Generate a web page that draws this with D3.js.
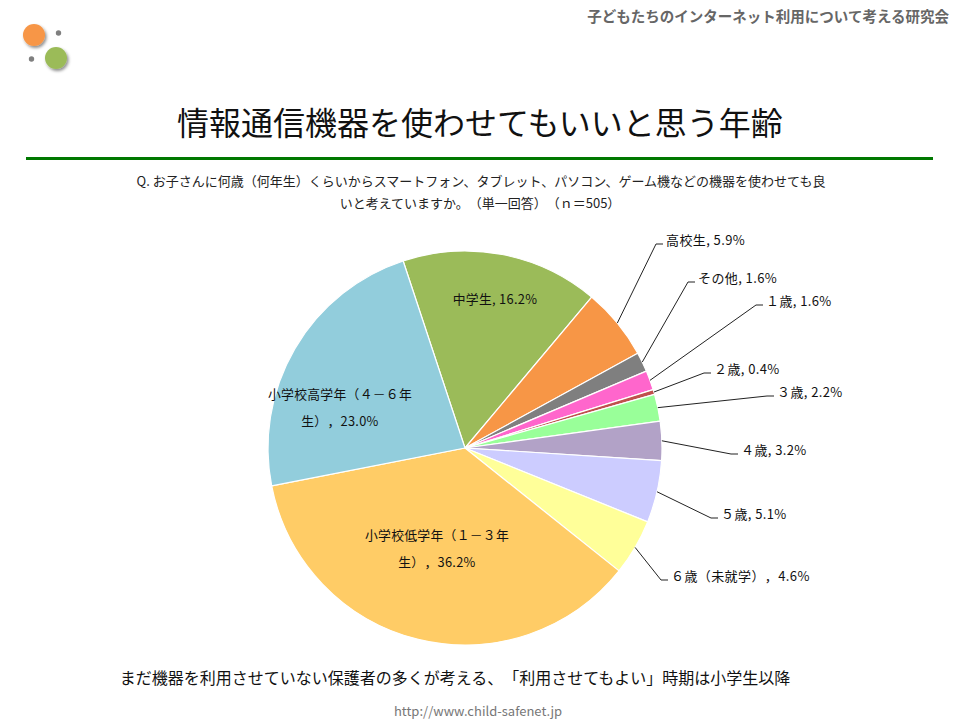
<!DOCTYPE html>
<html>
<head>
<meta charset="utf-8">
<script src="https://cdn.jsdelivr.net/npm/d3@7"></script>
<style>
  html, body { margin: 0; padding: 0; background: #fff; }
  svg { display: block; text-spacing-trim: space-all; }
  text { font-family: "Noto Sans CJK JP", "Noto Sans", sans-serif; text-spacing-trim: space-all; }
</style>
</head>
<body>
<svg id="chart" width="960" height="720"></svg>
<script>
// ---- data ----
const categories = ["中学生", "高校生", "その他", "１歳", "２歳", "３歳", "４歳", "５歳", "６歳（未就学）", "小学校低学年（１－３年生）", "小学校高学年（４－６年生）"];
const values = [16.2, 5.9, 1.6, 1.6, 0.4, 2.2, 3.2, 5.1, 4.6, 36.2, 23.0];
const sliceColors = ["#9BBB59", "#F79646", "#7F7F7F", "#FF66CC", "#C0504D", "#99FF99", "#B2A2C7", "#CCCCFF", "#FFFF99", "#FFCC66", "#92CDDC"];
// label text lines for each slice
const labelLines = [
  ["中学生, 16.2%"],
  ["高校生, 5.9%"],
  ["その他, 1.6%"],
  ["１歳, 1.6%"],
  ["２歳, 0.4%"],
  ["３歳, 2.2%"],
  ["４歳, 3.2%"],
  ["５歳, 5.1%"],
  ["６歳（未就学），4.6%"],
  ["小学校低学年（１－３年", "生），36.2%"],
  ["小学校高学年（４－６年", "生），23.0%"]
];

// ---- layout ----
const cx = 465, cy = 448, R = 197;
const startDeg = -18.3;
// outer label elbows (null = inside label)
const elbows = [null, [656, 244], [688, 282], [756, 305], [704, 373], [767, 396], [731, 454], [711, 518], [661, 580], null, null];
// inside label centres
const insidePos = [[495, 298], null, null, null, null, null, null, null, null, [437, 534], [340, 393]];

const svg = d3.select("#chart");

// header
svg.append("text").attr("x", 949).attr("y", 22).attr("text-anchor", "end")
  .attr("font-size", 14.5).attr("font-weight", "bold").attr("fill", "#666")
  .text("子どもたちのインターネット利用について考える研究会");

// logo
const defs = svg.append("defs");
const f = defs.append("filter").attr("id", "sh").attr("x", "-50%").attr("y", "-50%").attr("width", "200%").attr("height", "200%");
f.append("feDropShadow").attr("dx", 1.5).attr("dy", 2).attr("stdDeviation", 1.5).attr("flood-color", "#000").attr("flood-opacity", 0.45);
const logo = svg.append("g");
logo.append("circle").attr("cx", 34).attr("cy", 35).attr("r", 11).attr("fill", "#F79646").attr("filter", "url(#sh)");
logo.append("circle").attr("cx", 56).attr("cy", 58).attr("r", 11).attr("fill", "#9BBB59").attr("filter", "url(#sh)");
logo.append("circle").attr("cx", 58.5).attr("cy", 33).attr("r", 2.7).attr("fill", "#7F7F7F");
logo.append("circle").attr("cx", 31.5).attr("cy", 59).attr("r", 2.7).attr("fill", "#7F7F7F");

// title
svg.append("text").attr("x", 480).attr("y", 135).attr("text-anchor", "middle")
  .attr("font-size", 32).attr("fill", "#111")
  .text("情報通信機器を使わせてもいいと思う年齢");
svg.append("line").attr("x1", 26).attr("x2", 933).attr("y1", 158.5).attr("y2", 158.5)
  .attr("stroke", "#007800").attr("stroke-width", 3);

// question
const q = svg.append("text").attr("text-anchor", "middle").attr("font-size", 13).attr("fill", "#222");
q.append("tspan").attr("x", 481).attr("y", 186).text("Q. お子さんに何歳（何年生）くらいからスマートフォン、タブレット、パソコン、ゲーム機などの機器を使わせても良");
q.append("tspan").attr("x", 480).attr("y", 208).text("いと考えていますか。（単一回答）（ｎ＝505）");

// pie
const toRad = d => d * Math.PI / 180;
const pie = d3.pie().sort(null).value(d => d)
  .startAngle(toRad(startDeg)).endAngle(toRad(startDeg) + 2 * Math.PI);
const arcs = pie(values);
const arc = d3.arc().innerRadius(0).outerRadius(R);
const g = svg.append("g").attr("transform", `translate(${cx},${cy})`);
g.selectAll("path").data(arcs).join("path")
  .attr("d", arc)
  .attr("fill", (d, i) => sliceColors[i])
  .attr("stroke", "#fff").attr("stroke-width", 1.2).attr("stroke-linejoin", "round");

// labels
const labelFont = 13;
arcs.forEach((a, i) => {
  if (elbows[i]) {
    const mid = (a.startAngle + a.endAngle) / 2;
    const sx = cx + R * Math.sin(mid), sy = cy - R * Math.cos(mid);
    const [ex, ey] = elbows[i];
    svg.append("polyline")
      .attr("points", `${sx},${sy} ${ex},${ey} ${ex + 7},${ey}`)
      .attr("fill", "none").attr("stroke", "#222").attr("stroke-width", 1);
    svg.append("text").attr("x", ex + 10).attr("y", ey - 5)
      .attr("font-size", labelFont).attr("fill", "#111")
      .attr("letter-spacing", 0.4)
      .attr("dominant-baseline", "central")
      .text(labelLines[i][0]);
  } else {
    const [lx, ly] = insidePos[i];
    const t = svg.append("text").attr("text-anchor", "middle")
      .attr("font-size", 12.8).attr("letter-spacing", 0.3).attr("fill", "#111");
    labelLines[i].forEach((s, k) => {
      t.append("tspan").attr("x", lx).attr("y", ly + k * 27)
        .attr("dominant-baseline", "central").text(s);
    });
  }
});

// footer
svg.append("text").attr("x", 455).attr("y", 684).attr("text-anchor", "middle")
  .attr("font-size", 16).attr("fill", "#111")
  .text("まだ機器を利用させていない保護者の多くが考える、「利用させてもよい」時期は小学生以降");
svg.append("text").attr("x", 478).attr("y", 716).attr("text-anchor", "middle")
  .attr("font-size", 13).attr("fill", "#777").attr("font-family", "DejaVu Sans Condensed, DejaVu Sans")
  .attr("font-stretch", "condensed")
  .text("http://www.child-safenet.jp");
</script>
</body>
</html>
